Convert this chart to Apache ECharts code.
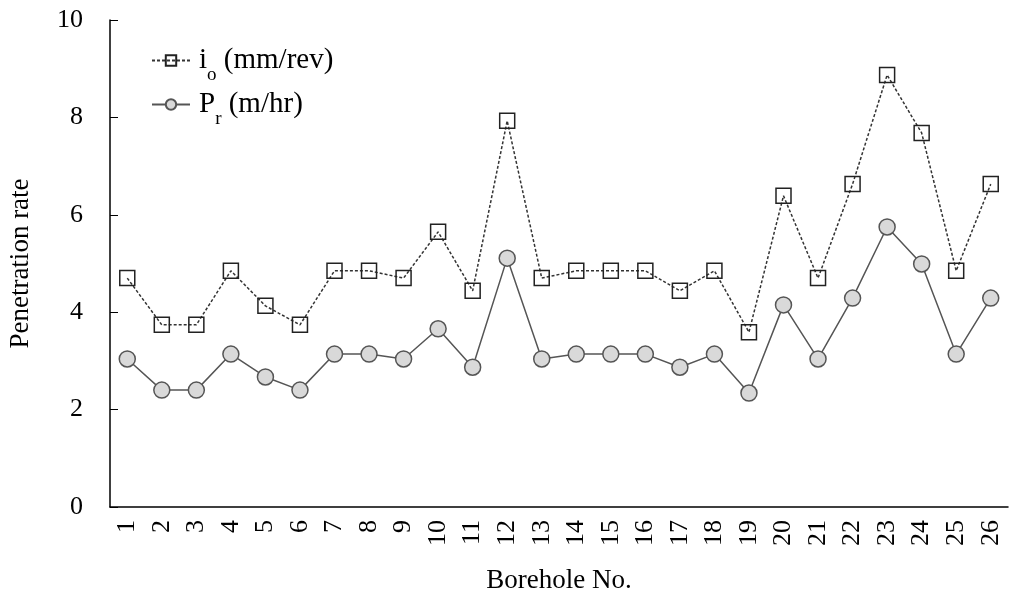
<!DOCTYPE html>
<html lang="en">
<head>
    <meta charset="UTF-8">
    <script src="https://cdn.jsdelivr.net/npm/echarts@6/dist/echarts.min.js"></script>
    <title>Penetration rate</title>
</head>
<body style="margin:0">
<div id="main" style="width: 1011px;height: 594px"></div>
<script type="text/javascript">
    // 钻孔编号
    var boreholes = ['1', '2', '3', '4', '5', '6', '7', '8', '9', '10', '11', '12', '13',
        '14', '15', '16', '17', '18', '19', '20', '21', '22', '23', '24', '25', '26'];
    // i_o (mm/rev)
    var ioValues = [4.70, 3.74, 3.74, 4.85, 4.13, 3.74, 4.85, 4.85, 4.70, 5.65, 4.44, 7.93, 4.70,
        4.85, 4.85, 4.85, 4.44, 4.85, 3.59, 6.39, 4.70, 6.63, 8.87, 7.68, 4.85, 6.63];
    // P_r (m/hr)
    var prValues = [3.04, 2.40, 2.40, 3.14, 2.67, 2.40, 3.14, 3.14, 3.04, 3.66, 2.87, 5.11, 3.04,
        3.14, 3.14, 3.14, 2.87, 3.14, 2.34, 4.15, 3.04, 4.29, 5.75, 4.99, 3.14, 4.29];
    var yTicks = [0, 2, 4, 6, 8, 10];

    var font = 'Liberation Serif';
    var myChart = echarts.init(document.getElementById("main"));

    myChart.setOption({
        animation: false,
        textStyle: {fontFamily: font},
        grid: {left: 110, right: 3, top: 20, bottom: 87, outerBoundsMode: 'none'},
        legend: {
            orient: 'vertical',
            left: 146,
            top: 41,
            itemGap: 5,
            itemWidth: 38,
            itemHeight: 13,
            data: ['io', 'pr'],
            formatter: function (name) {
                return name === 'io' ? '{a|i}{s|o}{a| (mm/rev)}' : '{a|P}{s|r}{a| (m/hr)}';
            },
            textStyle: {
                padding: [0, 0, 0, 4],
                rich: {
                    a: {fontFamily: font, fontSize: 29, color: '#000'},
                    s: {fontFamily: font, fontSize: 19, color: '#000', verticalAlign: 'bottom', padding: [0, 0, -10, 0]}
                }
            }
        },
        xAxis: {
            type: 'category',
            data: boreholes,
            boundaryGap: true,
            name: 'Borehole No.',
            nameLocation: 'middle',
            nameGap: 60,
            nameTextStyle: {fontFamily: font, fontSize: 27, color: '#000'},
            axisLine: {lineStyle: {color: '#000', width: 1.5}},
            axisTick: {inside: true, length: 8, lineStyle: {color: '#000'}},
            axisLabel: {rotate: 90, fontSize: 26, color: '#000', fontFamily: font, margin: 13}
        },
        yAxis: {
            type: 'value',
            min: yTicks[0],
            max: yTicks[yTicks.length - 1],
            interval: 2,
            name: 'Penetration rate',
            nameLocation: 'middle',
            nameGap: 76,
            nameTextStyle: {fontFamily: font, fontSize: 27, color: '#000'},
            splitLine: {show: false},
            axisLine: {show: true, lineStyle: {color: '#000', width: 1.5}},
            axisTick: {show: true, inside: true, length: 8, lineStyle: {color: '#000'}},
            axisLabel: {fontSize: 26, color: '#000', fontFamily: font, margin: 27}
        },
        series: [
            {
                name: 'io',
                type: 'line',
                data: ioValues,
                symbol: 'rect',
                symbolSize: 15,
                lineStyle: {color: '#333', width: 1.5, type: [3, 2]},
                itemStyle: {color: 'rgba(255,255,255,0)', borderColor: '#222', borderWidth: 1.5}
            },
            {
                name: 'pr',
                type: 'line',
                data: prValues,
                symbol: 'circle',
                symbolSize: 16,
                lineStyle: {color: '#555', width: 1.5},
                itemStyle: {color: '#d9d9d9', borderColor: '#555', borderWidth: 1.5}
            }
        ]
    });
</script>
</body>
</html>
